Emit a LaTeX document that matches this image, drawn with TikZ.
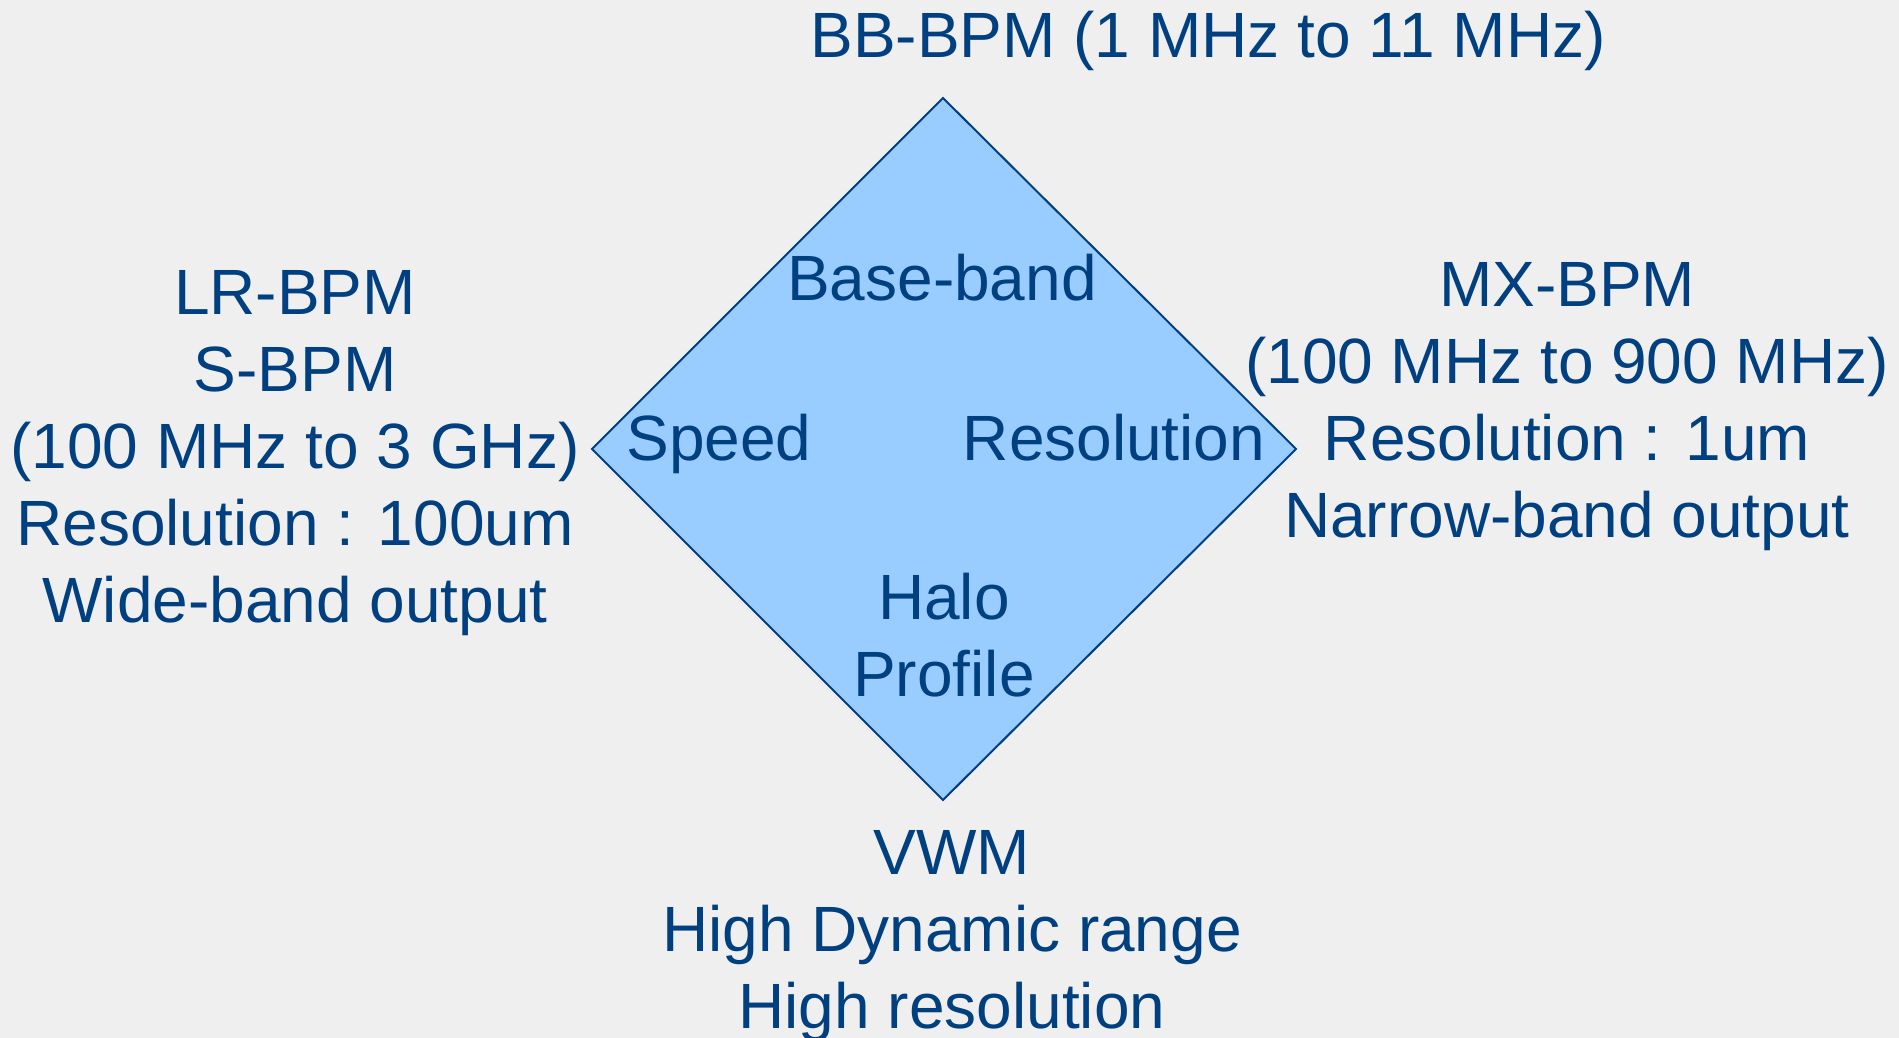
\documentclass[tikz,border=0pt]{standalone}
\usepackage{fontspec}
\setmainfont{Liberation Sans}
\definecolor{txtblue}{RGB}{0,64,128}
\definecolor{fillblue}{RGB}{153,204,255}
\definecolor{bggray}{RGB}{239,239,239}
\tikzset{
  lbl/.style={text=txtblue, font=\fontsize{64}{77}\selectfont, align=center, inner sep=0pt, anchor=base},
  dia/.style={draw=txtblue, fill=fillblue, line width=2pt, line join=miter}
}
\begin{document}
\begin{tikzpicture}[x=1pt,y=-1pt]
\fill[bggray] (0,0) rectangle (1899,1038);
\useasboundingbox (0,0) rectangle (1899,1038);
\coordinate (T) at (943,98);
\coordinate (L) at (592,449);
\coordinate (R) at (1296,449);
\coordinate (B) at (943,800);
\draw[dia] (T) -- (R) -- (B) -- (L) -- cycle;
% multi-line nodes: base anchor is the baseline of the last line
\node[lbl] (bb) at (1208,58) {BB-BPM (1 MHz to 11 MHz)};
\node[lbl] (lr) at (295,622) {LR-BPM\\S-BPM\\(100 MHz to 3 GHz)\\Resolution : 100um\\Wide-band output};
\node[lbl] (mx) at (1567,537) {MX-BPM\\(100 MHz to 900 MHz)\\Resolution : 1um\\Narrow-band output};
\node[lbl] (vwm) at (952,1028) {VWM\\High Dynamic range\\High resolution};
\node[lbl] (base) at (942,300) {Base-band};
\node[lbl] (speed) at (719,460) {Speed};
\node[lbl] (res) at (1114,460) {Resolution};
\node[lbl] (halo) at (944,696) {Halo\\Profile};
\end{tikzpicture}
\end{document}
